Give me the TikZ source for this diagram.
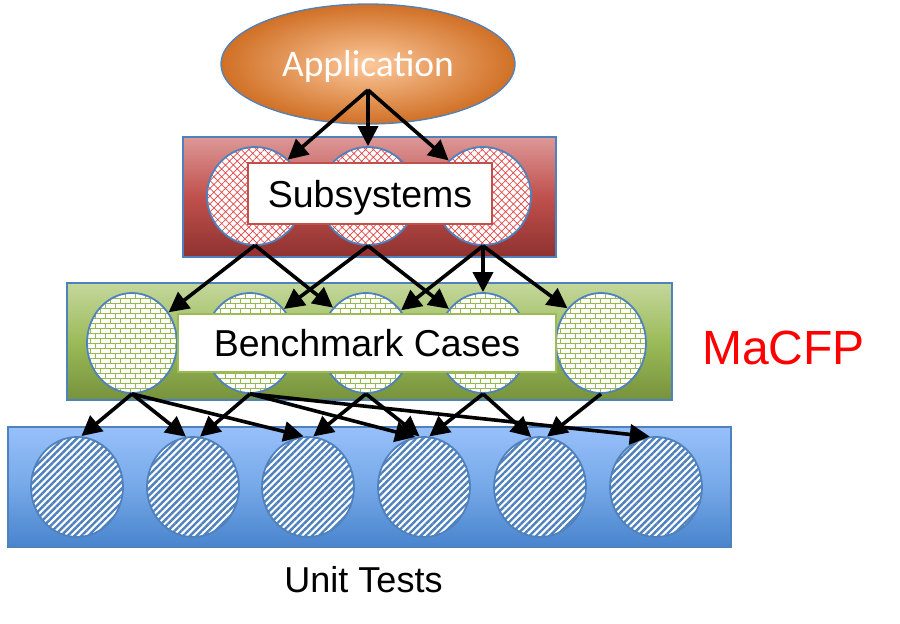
\documentclass[tikz,border=0pt]{standalone}
\usepackage{fontspec}
\setmainfont{Liberation Sans}
\newfontfamily\calib{Carlito}
\usetikzlibrary{shapes.geometric,arrows.meta,patterns,patterns.meta}
\definecolor{bordblue}{RGB}{79,129,189}
\definecolor{redA}{RGB}{220,152,151}
\definecolor{redB}{RGB}{192,80,77}
\definecolor{redC}{RGB}{142,50,48}
\definecolor{grnA}{RGB}{196,215,156}
\definecolor{grnB}{RGB}{155,187,89}
\definecolor{grnC}{RGB}{118,146,60}
\definecolor{bluA}{RGB}{151,192,250}
\definecolor{bluB}{RGB}{118,168,232}
\definecolor{bluC}{RGB}{72,132,205}
\definecolor{orgIn}{RGB}{252,200,155}
\definecolor{orgOut}{RGB}{208,112,38}
\definecolor{hatchred}{RGB}{225,70,70}
\definecolor{boxred}{RGB}{192,80,77}
\definecolor{boxgreen}{RGB}{155,187,89}
\definecolor{brickgreen}{RGB}{150,185,80}
\definecolor{stripeblue}{RGB}{79,129,189}
\pgfdeclarepatternformonly{mybricks}{\pgfpoint{-1pt}{-1pt}}{\pgfpoint{11pt}{11pt}}{\pgfpoint{10pt}{10pt}}{%
  \pgfsetlinewidth{1pt}%
  \pgfpathmoveto{\pgfpoint{0pt}{0pt}}\pgfpathlineto{\pgfpoint{10pt}{0pt}}%
  \pgfpathmoveto{\pgfpoint{0pt}{5pt}}\pgfpathlineto{\pgfpoint{10pt}{5pt}}%
  \pgfpathmoveto{\pgfpoint{0pt}{0pt}}\pgfpathlineto{\pgfpoint{0pt}{5pt}}%
  \pgfpathmoveto{\pgfpoint{5pt}{5pt}}\pgfpathlineto{\pgfpoint{5pt}{10pt}}%
  \pgfusepath{stroke}}
\tikzset{
  band/.style={rectangle, draw=bordblue, line width=1.3pt, inner sep=0pt},
  ball/.style={ellipse, inner sep=0pt, draw=bordblue, line width=1.8pt, preaction={fill=white}},
  redball/.style={ball, minimum width=96pt, minimum height=98pt,
    pattern={Hatch[angle=45,distance=5.5pt,line width=0.7pt]}, pattern color=hatchred},
  greenball/.style={ball, minimum width=90pt, minimum height=100pt,
    pattern=mybricks, pattern color=brickgreen},
  blueball/.style={ball, minimum width=92pt, minimum height=100pt,
    pattern={Lines[angle=45,distance=4.8pt,line width=2.4pt]}, pattern color=stripeblue},
  lblbox/.style={rectangle, fill=white, line width=2.3pt, inner sep=0pt,
    font=\fontsize{37.5}{40}\selectfont, text height=27pt, text depth=0pt},
  conn/.style={line width=3.6pt, -{Triangle[length=20pt,width=20pt]}},
}
\begin{document}
\begin{tikzpicture}[x=1pt,y=-1pt]
\useasboundingbox (0,0) rectangle (900,624);
% application
\node[ellipse, minimum width=294pt, minimum height=120pt, inner sep=0pt,
  draw=bordblue, line width=1.3pt, inner color=orgIn, outer color=orgOut,
  text=white, font=\calib\fontsize{37.5}{40}\selectfont, text height=24pt, text depth=0pt]
  (app) at (368,64) {Application};
\coordinate (apx) at (368,90);
% bands
\node[band, minimum width=373pt, minimum height=120pt, top color=redA, bottom color=redC, middle color=redB] (redband) at (369.5,197) {};
\node[band, minimum width=605pt, minimum height=117pt, top color=grnA, bottom color=grnC, middle color=grnB] (grnband) at (369.5,341.5) {};
\node[band, minimum width=723pt, minimum height=120pt, top color=bluA, bottom color=bluC, middle color=bluB] (bluband) at (369.5,487) {};
% red circles
\node[redball] (r1) at (255,196) {};
\node[redball] (r2) at (368,196) {};
\node[redball] (r3) at (483,196) {};
% green circles
\node[greenball] (g1) at (132,343) {};
\node[greenball] (g2) at (250,343) {};
\node[greenball] (g3) at (366,343) {};
\node[greenball] (g4) at (483,343) {};
\node[greenball] (g5) at (601,343) {};
% blue circles
\node[blueball] (b1) at (77,487) {};
\node[blueball] (b2) at (193,487) {};
\node[blueball] (b3) at (308,487) {};
\node[blueball] (b4) at (424,487) {};
\node[blueball] (b5) at (540,487) {};
\node[blueball] (b6) at (656,487) {};
% label boxes
\node[lblbox, draw=boxred, minimum width=244pt, minimum height=61pt] (subs) at (370,193.5) {Subsystems};
\node[lblbox, draw=boxgreen, minimum width=378pt, minimum height=58pt] (bench) at (367,343) {Benchmark Cases};
% texts
\node[anchor=base, inner sep=0pt, font=\fontsize{36}{40}\selectfont] (unit) at (363.5,592) {Unit Tests};
\node[anchor=base, inner sep=0pt, text=red, font=\fontsize{48}{52}\selectfont] (macfp) at (783.5,364) {MaCFP};
% connectors
\draw[conn] (apx) -- (r1.48);
\draw[conn] (apx) -- (r2.90);
\draw[conn] (apx) -- (r3.134);
\draw[conn] (r1.south) -- (g1.40);
\draw[conn] (r1.south) -- (g3.133);
\draw[conn] (r2.south) -- (g2.45);
\draw[conn] (r2.south) -- (g4.135);
\draw[conn] (r3.south) -- (g3.43);
\draw[conn] (r3.south) -- (g4.90);
\draw[conn] (r3.south) -- (g5.134);
\draw[conn] (g1.south) -- (b1.85);
\draw[conn] (g1.south) -- (b2.98);
\draw[conn] (g1.south) -- (b3.95);
\draw[conn] (g2.south) -- (b2.82);
\draw[conn] (g2.south) -- (b4.100);
\draw[conn] (g2.south) -- (b6.97);
\draw[conn] (g3.south) -- (b3.84);
\draw[conn] (g3.south) -- (b4.95);
\draw[conn] (g4.south) -- (b4.84);
\draw[conn] (g4.south) -- (b5.100);
\draw[conn] (g5.south) -- (b5.82);
\end{tikzpicture}
\end{document}
